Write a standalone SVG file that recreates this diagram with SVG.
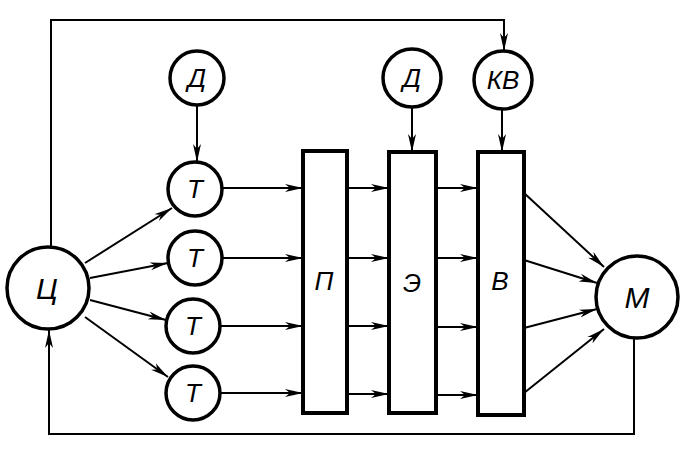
<svg xmlns="http://www.w3.org/2000/svg" width="693" height="456" viewBox="0 0 693 456">
<style>
.c{fill:#fff;stroke:#000;stroke-width:3.5}
.r{fill:#fff;stroke:#000;stroke-width:4}
.l{fill:none;stroke:#000;stroke-width:2}
.t{font-family:"Liberation Sans",Arial,sans-serif;font-style:italic;font-size:26px;text-anchor:middle;fill:#000}
.tb{font-size:30px}
</style>
<defs>
<marker id="a" viewBox="0 0 18 9" refX="18" refY="4.5" markerWidth="18" markerHeight="9" markerUnits="userSpaceOnUse" orient="auto">
<path d="M0,0.5 L18,4.5 L0,8.5 L5,4.5 Z" fill="#000"/>
</marker>
</defs>
<rect width="693" height="456" fill="#fff"/>
<g id="connectors">
<path class="l" d="M51,247 V20 H504 V51" marker-end="url(#a)"/>
<path class="l" d="M634,337 V434 H49 V330" marker-end="url(#a)"/>
<path class="l" d="M197,105 V162" marker-end="url(#a)"/>
<path class="l" d="M412,107 V152" marker-end="url(#a)"/>
<path class="l" d="M502,109 V152" marker-end="url(#a)"/>
<path class="l" d="M85,263 L172,208" marker-end="url(#a)"/>
<path class="l" d="M90,278 L168,263" marker-end="url(#a)"/>
<path class="l" d="M90,300 L166,320" marker-end="url(#a)"/>
<path class="l" d="M85,317 L168,377" marker-end="url(#a)"/>
<path class="l" d="M222,188 H303" marker-end="url(#a)"/>
<path class="l" d="M222,258 H303" marker-end="url(#a)"/>
<path class="l" d="M220,326 H303" marker-end="url(#a)"/>
<path class="l" d="M220,393 H303" marker-end="url(#a)"/>
<path class="l" d="M347,188 H389" marker-end="url(#a)"/>
<path class="l" d="M347,258 H389" marker-end="url(#a)"/>
<path class="l" d="M347,326 H389" marker-end="url(#a)"/>
<path class="l" d="M347,394 H389" marker-end="url(#a)"/>
<path class="l" d="M436,188 H478" marker-end="url(#a)"/>
<path class="l" d="M436,258 H478" marker-end="url(#a)"/>
<path class="l" d="M436,327 H478" marker-end="url(#a)"/>
<path class="l" d="M436,395 H478" marker-end="url(#a)"/>
<path class="l" d="M524,193 L604,267" marker-end="url(#a)"/>
<path class="l" d="M524,260 L597,283" marker-end="url(#a)"/>
<path class="l" d="M524,328 L597,309" marker-end="url(#a)"/>
<path class="l" d="M524,393 L604,329" marker-end="url(#a)"/>
</g>
<g id="node-ts"><circle class="c" cx="48" cy="288" r="41"/><text class="t tb" x="47" y="299">Ц</text></g>
<g id="node-d1"><circle class="c" cx="197" cy="78" r="27"/><text class="t" x="197" y="87">Д</text></g>
<g id="node-t1"><circle class="c" cx="195" cy="189" r="27"/><text class="t" x="195" y="198">Т</text></g>
<g id="node-t2"><circle class="c" cx="195" cy="258" r="27"/><text class="t" x="195" y="267">Т</text></g>
<g id="node-t3"><circle class="c" cx="193" cy="326" r="27"/><text class="t" x="193" y="335">Т</text></g>
<g id="node-t4"><circle class="c" cx="193" cy="393" r="27"/><text class="t" x="193" y="402">Т</text></g>
<g id="node-p"><rect class="r" x="303" y="151" width="44" height="262"/><text class="t" x="324" y="290">П</text></g>
<g id="node-e"><rect class="r" x="389" y="152" width="47" height="261"/><text class="t" x="412" y="292">Э</text></g>
<g id="node-v"><rect class="r" x="478" y="152" width="46" height="263"/><text class="t" x="500" y="290">В</text></g>
<g id="node-d2"><circle class="c" cx="412" cy="78" r="29"/><text class="t" x="412" y="87">Д</text></g>
<g id="node-kv"><circle class="c" cx="503" cy="80" r="29"/><text class="t" x="503" y="89">КВ</text></g>
<g id="node-m"><circle class="c" cx="637" cy="297" r="41"/><text class="t tb" x="637" y="308">М</text></g>
</svg>
